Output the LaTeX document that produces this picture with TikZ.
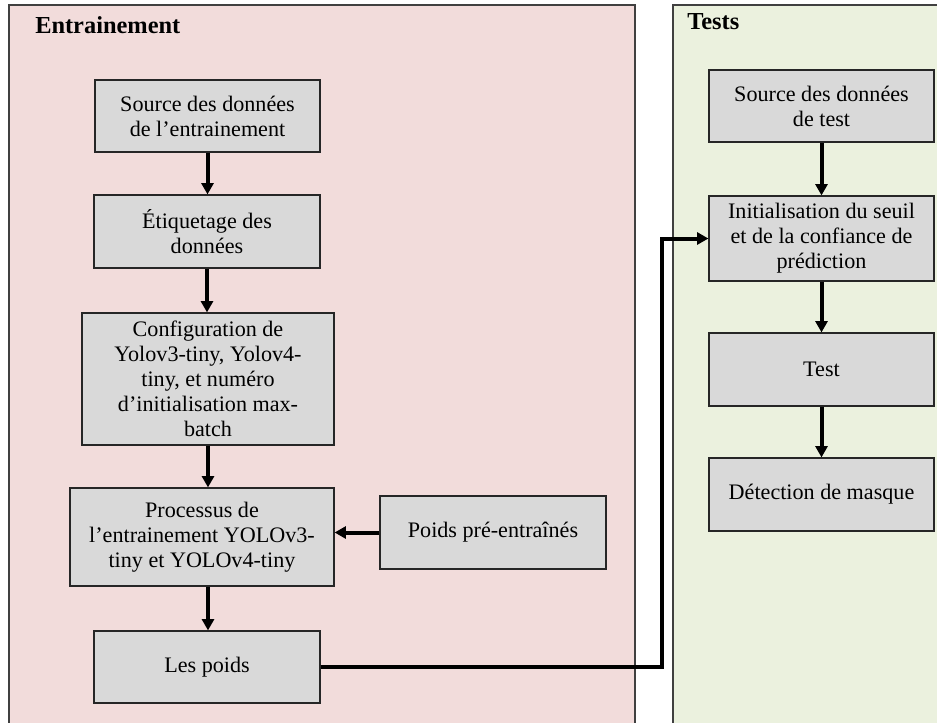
\documentclass[tikz,border=0pt]{standalone}
\usepackage{fontspec}
\setmainfont{Liberation Serif}
\usepackage{xcolor}
\usetikzlibrary{positioning,arrows.meta}

\definecolor{trainpink}{HTML}{F2DCDB}
\definecolor{testgreen}{HTML}{EBF1DE}
\definecolor{boxgray}{HTML}{D9D9D9}

\begin{document}
\begin{tikzpicture}[x=0.75pt, y=-0.75pt,
    panel/.style={draw=black!75, line width=0.8pt},
    title/.style={anchor=base west, inner sep=0pt, font=\bfseries\fontsize{18.3}{21}\selectfont},
    stepbox/.style={draw=black!85, fill=boxgray, line width=0.9pt, align=center,
        inner sep=0pt, font=\fontsize{16.6}{18.75}\selectfont},
    flow/.style={line width=3pt, -{Triangle[length=8.5pt,width=9pt]}}]

    \clip (0,0) rectangle (937,722);

    % the two panels run past the bottom edge
    \draw[panel, fill=trainpink] (9,5) rectangle (635,740);
    \draw[panel, fill=testgreen] (673,5) rectangle (950,740);

    \node[title] (trainTitle) at (35,33) {Entrainement};
    \node[title] (testTitle) at (687,29) {Tests};

    % training steps
    \node[stepbox, minimum width=168.75pt, minimum height=54pt] (src) at (207.5,116)
        {Source des données\\de l’entrainement};
    \node[stepbox, minimum width=169.5pt, minimum height=54.75pt] (label) at (207,231.5)
        {Étiquetage des\\données};
    \node[stepbox, minimum width=189pt, minimum height=99pt] (config) at (208,379)
        {Configuration de\\Yolov3-tiny, Yolov4-\\tiny, et numéro\\d’initialisation max-\\batch};
    \node[stepbox, minimum width=198pt, minimum height=73.5pt] (train) at (202,537)
        {Processus de\\l’entrainement YOLOv3-\\tiny et YOLOv4-tiny};
    \node[stepbox, minimum width=169.5pt, minimum height=54pt] (weights) at (207,667)
        {Les poids};
    \node[stepbox, minimum width=169.5pt, minimum height=54.75pt] (pretrained) at (493,532.5)
        {Poids pré-entraînés};

    % test steps
    \node[stepbox, minimum width=168.75pt, minimum height=54pt] (testsrc) at (821.5,106)
        {Source des données\\de test};
    \node[stepbox, minimum width=168.75pt, minimum height=63.75pt] (init) at (821.5,238.5)
        {Initialisation du seuil\\et de la confiance de\\prédiction};
    \node[stepbox, minimum width=168.75pt, minimum height=54.75pt] (test) at (821.5,369.5)
        {Test};
    \node[stepbox, minimum width=168.75pt, minimum height=54.75pt] (detect) at (821.5,494.5)
        {Détection de masque};

    % arrows
    \draw[flow] (src.south) -- (src.south |- label.north);
    \draw[flow] (label.south) -- (label.south |- config.north);
    \draw[flow] (config.south) -- (config.south |- train.north);
    \draw[flow] (train.south -| config.south) -- (config.south |- weights.north);
    \draw[flow] (pretrained.west) -- (pretrained.west -| train.east);

    \draw[flow] (testsrc.south) -- (init.north);
    \draw[flow] (init.south) -- (test.north);
    \draw[flow] (test.south) -- (detect.north);

    \coordinate (bend) at (662,0);
    \draw[flow] (weights.east) -- (weights.east -| bend) -- (bend |- init.west) -- (init.west);

\end{tikzpicture}
\end{document}
